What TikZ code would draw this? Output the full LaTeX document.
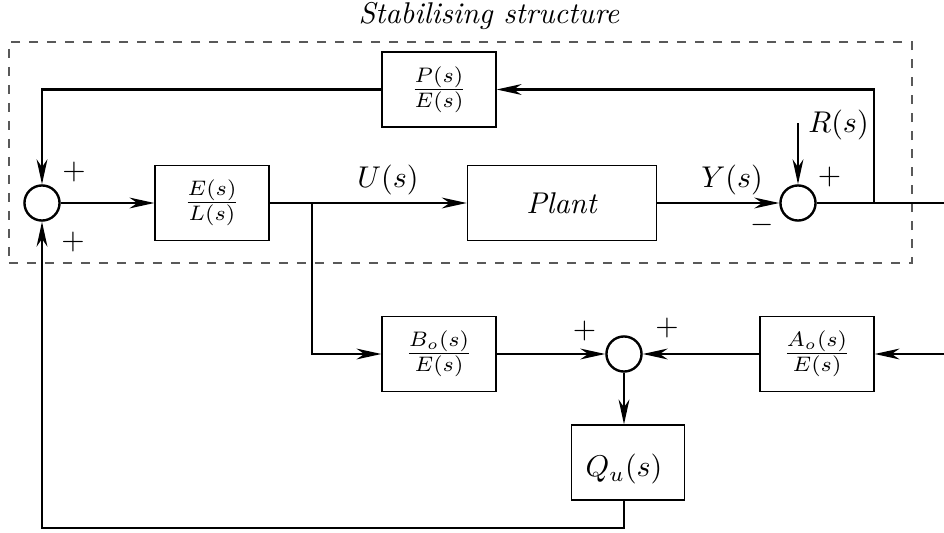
\documentclass[tikz,border=0pt]{standalone}
\usetikzlibrary{arrows.meta}
\begin{document}
\begin{tikzpicture}[x=0.33333pt,y=-0.33333pt,
  conn/.style={line width=0.8pt},
  arr/.style={-{Stealth[length=8.3pt,width=3.6pt,inset=2.6pt]}},
  blockbox/.style={draw,line width=0.4pt,minimum width=38pt,minimum height=25pt,inner sep=0pt},
  sumnode/.style={draw,circle,line width=0.8pt,minimum size=11.7pt,inner sep=0pt},
  sign/.style={inner sep=0pt},
]
\useasboundingbox (0,0) rectangle (944,533);
% stabilising structure frame
\node[draw=black!65, dashed, line width=0.4pt, minimum width=301pt, minimum height=73.7pt, inner sep=0pt] (stab) at (460.5,152.5) {};
\node[sign] (title) at (489,16.5) {\textit{Stabilising structure}};
% blocks
\node[sumnode] (sumL) at (42,203) {};
\node[blockbox] (EL) at (212,203) {$\frac{E(s)}{L(s)}$};
\node[blockbox, minimum width=63.1pt] (plant) at (562,203) {\textit{Plant}};
\node[sumnode] (sumR) at (798,203) {};
\node[blockbox] (PE) at (439,89.5) {$\frac{P(s)}{E(s)}$};
\node[blockbox] (BoE) at (439,354) {$\frac{B_o(s)}{E(s)}$};
\node[sumnode] (sumB) at (624,354) {};
\node[blockbox] (AoE) at (817,354) {$\frac{A_o(s)}{E(s)}$};
\node[blockbox, minimum width=37.7pt] (Qu) at (628,462.5) {};
\node[sign] (qutext) at (624,469) {$Q_u(s)$};
% helper coordinates
\coordinate (branch) at (312,203);
\coordinate (tap) at (874,203);
\coordinate (out) at (944,203);
\coordinate (rin) at (798,123);
\coordinate (ain) at (944,354);
\coordinate (qbot) at (624,528);
% labels
\node[sign] (ulab) at (388,180) {$U(s)$};
\node[sign] (ylab) at (732,180) {$Y(s)$};
\node[sign] (rlab) at (838.5,125) {$R(s)$};
\node[sign] (pL1) at (74,171.5) {$+$};
\node[sign] (pL2) at (73,242) {$+$};
\node[sign] (pR1) at (829.5,177) {$+$};
\node[sign] (mR) at (762.5,225) {$-$};
\node[sign] (pB1) at (584.5,331) {$+$};
\node[sign] (pB2) at (667,328.5) {$+$};
% connectors
\draw[conn,arr] (sumL) -- (EL);
\draw[conn,arr] (EL) -- (plant);
\draw[conn,arr] (plant) -- (sumR);
\draw[conn] (sumR) -- (out);
\draw[conn,arr] (rin) -- (sumR);
\draw[conn,arr] (tap) |- (PE);
\draw[conn,arr] (PE) -| (sumL);
\draw[conn,arr] (branch) |- (BoE);
\draw[conn,arr] (BoE) -- (sumB);
\draw[conn,arr] (ain) -- (AoE);
\draw[conn,arr] (AoE) -- (sumB);
\draw[conn,arr] (sumB) -- (sumB |- Qu.north);
\draw[conn,arr] (Qu.south -| qbot) -- (qbot) -| (sumL);
\end{tikzpicture}
\end{document}
